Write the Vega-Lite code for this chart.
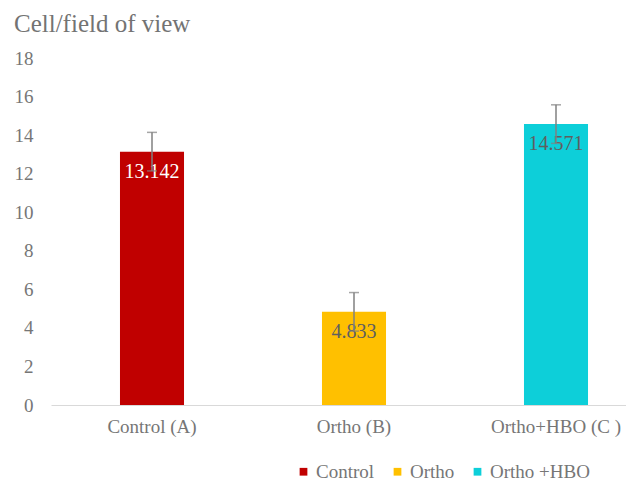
{
  "$schema": "https://vega.github.io/schema/vega-lite/v6.json",
  "width": 575,
  "height": 347,
  "autosize": {"type": "none"},
  "padding": {"left": 51, "top": 58, "right": 0, "bottom": 77},
  "background": "white",
  "title": {
    "text": "Cell/field of view",
    "anchor": "start",
    "frame": "group",
    "dx": -37,
    "offset": 12,
    "fontSize": 25,
    "fontWeight": "normal",
    "font": "Liberation Serif",
    "color": "#737373"
  },
  "config": {
    "view": {"stroke": null},
    "font": "Liberation Serif",
    "axis": {"labelOverlap": false},
    "axisY": {"labelOverlap": false, "labelBound": false, "labelFlush": false}
  },
  "data": {
    "values": [
      {"group": "Control (A)", "series": "Control", "value": 13.142, "lo": 12.142, "hi": 14.142},
      {"group": "Ortho (B)", "series": "Ortho", "value": 4.833, "lo": 3.833, "hi": 5.833},
      {"group": "Ortho+HBO (C )", "series": "Ortho +HBO", "value": 14.571, "lo": 13.571, "hi": 15.571}
    ]
  },
  "encoding": {
    "x": {
      "field": "group",
      "type": "nominal",
      "sort": null,
      "scale": {"range": [0, 606], "paddingInner": 0.683, "paddingOuter": 0.3415},
      "axis": {
        "title": null,
        "labelAngle": 0,
        "ticks": false,
        "domainColor": "#d9d9d9",
        "domainWidth": 1,
        "labelFont": "Liberation Serif",
        "labelFontSize": 19,
        "labelColor": "#767676",
        "labelPadding": 12
      }
    },
    "y": {
      "field": "value",
      "type": "quantitative",
      "scale": {"domain": [0, 18], "nice": false},
      "axis": {
        "title": null,
        "values": [0, 2, 4, 6, 8, 10, 12, 14, 16, 18],
        "tickCount": 10,
        "labelOverlap": false,
        "grid": false,
        "domain": false,
        "ticks": false,
        "labelFont": "Liberation Serif",
        "labelFontSize": 19,
        "labelColor": "#767676",
        "labelPadding": 18
      }
    }
  },
  "layer": [
    {
      "mark": {"type": "bar"},
      "encoding": {
        "color": {
          "field": "series",
          "type": "nominal",
          "scale": {"domain": ["Control", "Ortho", "Ortho +HBO"], "range": ["#C00000", "#FFC000", "#0DCFD9"]},
          "legend": {
            "title": null,
            "orient": "none",
            "legendX": 243,
            "legendY": 404,
            "direction": "horizontal",
            "symbolType": "square",
            "symbolSize": 60,
            "symbolStrokeWidth": 0,
            "labelFont": "Liberation Serif",
            "labelFontSize": 19,
            "labelColor": "#767676",
            "labelOffset": 3,
            "columnPadding": 13
          }
        }
      }
    },
    {
      "mark": {"type": "text", "dy": 20, "fontSize": 20, "baseline": "middle", "font": "Liberation Serif"},
      "encoding": {
        "text": {"field": "value", "type": "quantitative", "format": ".3f"},
        "color": {"condition": {"test": "datum.series === 'Control'", "value": "white"}, "value": "#5f5f5f"}
      }
    },
    {
      "mark": {"type": "rule", "color": "#808080", "strokeWidth": 1.5},
      "encoding": {
        "y": {"field": "lo", "type": "quantitative"},
        "y2": {"field": "hi"}
      }
    },
    {
      "mark": {"type": "tick", "color": "#808080", "thickness": 1.5, "size": 10},
      "encoding": {
        "y": {"field": "hi", "type": "quantitative"}
      }
    },
    {
      "mark": {"type": "tick", "color": "#808080", "thickness": 1.5, "size": 10},
      "encoding": {
        "y": {"field": "lo", "type": "quantitative"}
      }
    }
  ]
}
